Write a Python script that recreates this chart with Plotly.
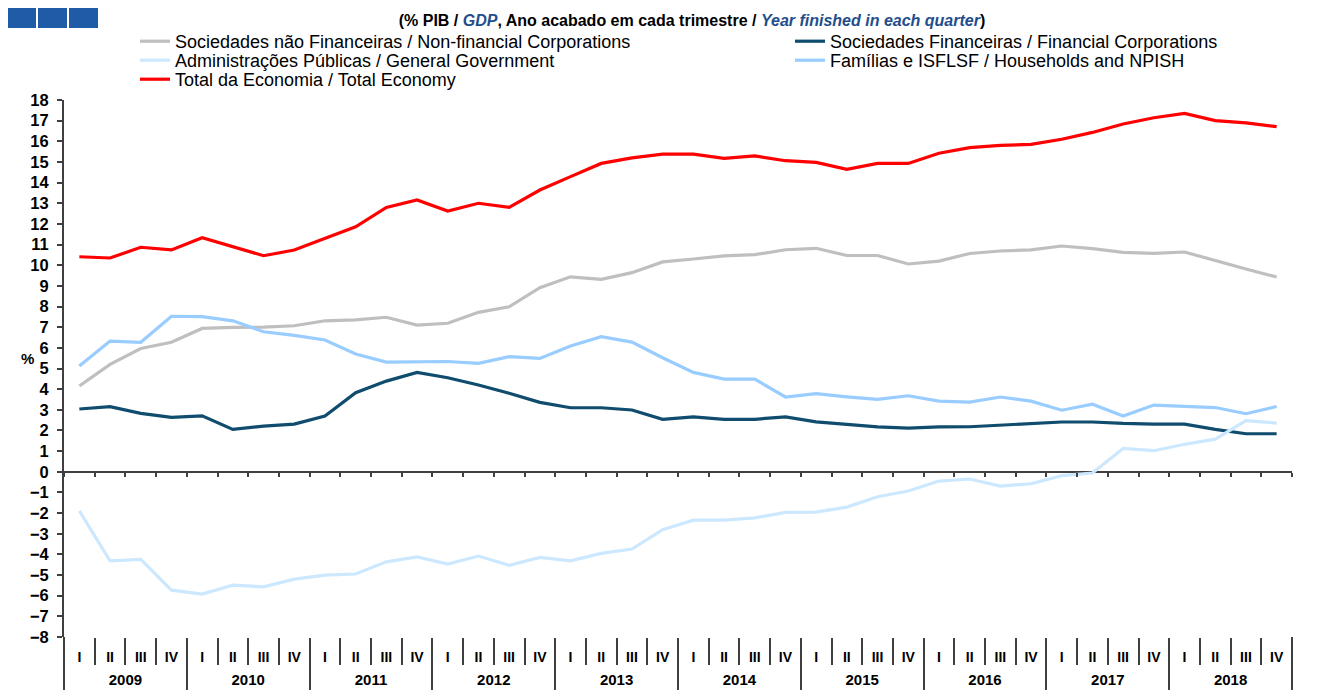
import plotly.graph_objects as go

YEARS = [str(y) for y in range(2009, 2019)]
QUARTERS = ["I", "II", "III", "IV"]

non_financial = [4.15, 5.20, 5.97, 6.27, 6.94, 6.99, 7.00, 7.07, 7.31, 7.35,
                 7.48, 7.10, 7.19, 7.72, 7.99, 8.91, 9.44, 9.32, 9.64, 10.16,
                 10.30, 10.45, 10.51, 10.75, 10.82, 10.47, 10.47, 10.06, 10.20, 10.57,
                 10.69, 10.74, 10.93, 10.80, 10.62, 10.57, 10.64, 10.22, 9.82, 9.43]
financial = [3.04, 3.15, 2.83, 2.63, 2.71, 2.05, 2.21, 2.31, 2.70, 3.83,
             4.39, 4.81, 4.55, 4.20, 3.80, 3.36, 3.10, 3.10, 2.99, 2.54,
             2.66, 2.54, 2.54, 2.66, 2.42, 2.29, 2.17, 2.11, 2.17, 2.18,
             2.26, 2.32, 2.41, 2.41, 2.34, 2.31, 2.31, 2.05, 1.84, 1.84]
government = [-1.89, -4.31, -4.24, -5.73, -5.92, -5.49, -5.57, -5.20, -5.00, -4.95,
              -4.36, -4.12, -4.47, -4.08, -4.53, -4.15, -4.31, -3.95, -3.74, -2.80,
              -2.34, -2.34, -2.23, -1.97, -1.95, -1.71, -1.21, -0.93, -0.45, -0.35,
              -0.69, -0.58, -0.19, -0.06, 1.13, 1.02, 1.33, 1.58, 2.47, 2.36]
households = [5.12, 6.33, 6.27, 7.53, 7.51, 7.31, 6.78, 6.60, 6.38, 5.70,
              5.31, 5.31, 5.34, 5.25, 5.57, 5.49, 6.09, 6.54, 6.28, 5.52,
              4.81, 4.49, 4.49, 3.62, 3.78, 3.63, 3.51, 3.68, 3.42, 3.37,
              3.62, 3.42, 2.98, 3.27, 2.70, 3.23, 3.18, 3.11, 2.81, 3.16]
total = [10.41, 10.35, 10.87, 10.74, 11.33, 10.90, 10.46, 10.74, 11.30, 11.86,
         12.80, 13.16, 12.62, 13.00, 12.80, 13.64, 14.29, 14.93, 15.20, 15.38,
         15.38, 15.17, 15.29, 15.06, 14.98, 14.64, 14.93, 14.93, 15.42, 15.69,
         15.80, 15.85, 16.10, 16.43, 16.84, 17.14, 17.35, 17.00, 16.89, 16.71]

x_cats = [f"{y} {q}" for y in YEARS for q in QUARTERS]
x_quarter = [q for _ in YEARS for q in QUARTERS]
n = len(x_cats)
nq = len(QUARTERS)
year_centres = [i * nq + (nq - 1) / 2 for i in range(len(YEARS))]

FONT = "Liberation Sans, Arial, sans-serif"
AXIS = "#404040"

# page has an 8px body margin, so work in screen pixels and convert
W, H = 1319, 682
PL, PR, PT, PB = 64, 1292, 100, 637


def px(sx):
    return (sx - PL) / (PR - PL)


def py(sy):
    return (PB - sy) / (PB - PT)


# (name, values, colour, legend id, legend text x, legend row centre y)
series = [
    ("Sociedades não Financeiras / Non-financial Corporations", non_financial, "#bfbfbf", "legend", 175, 43),
    ("Sociedades Financeiras / Financial Corporations", financial, "#0f4c6e", "legend2", 830, 43),
    ("Administrações Públicas / General Government", government, "#cce8ff", "legend3", 175, 62),
    ("Famílias e ISFLSF / Households and NPISH", households, "#99ccff", "legend4", 830, 62),
    ("Total da Economia / Total Economy", total, "#ff0000", "legend5", 175, 81),
]

fig = go.Figure()
legends = {}
for name, vals, color, leg, lx, ly in series:
    fig.add_trace(go.Scatter(
        x=x_cats, y=vals, mode="lines", name=name, legend=leg, showlegend=True,
        line=dict(color=color, width=3.2),
    ))
    legends[leg] = dict(x=px(lx - 40), y=py(ly - 20), xanchor="left", yanchor="top",
                        font=dict(size=18, family=FONT), bgcolor="rgba(0,0,0,0)")

# empty traces so the overlay x axes (zero-line ticks, years, dividers) get drawn
for ax in ("x2", "x3", "x4"):
    fig.add_trace(go.Scatter(x=[None], y=[None], xaxis=ax, yaxis="y", mode="lines",
                             showlegend=False, hoverinfo="skip"))

yrange = [-8, 18]
ytick = dict(tickmode="linear", tick0=-8, dtick=1, range=yrange, showgrid=False,
             tickcolor=AXIS, tickwidth=1.5, ticklen=5, automargin=False)
xlin = dict(overlaying="x", type="linear", range=[-0.5, n - 0.5], automargin=False,
            showline=False, showgrid=False, zeroline=False)

fig.update_layout(
    width=W, height=H, showlegend=True,
    margin=dict(l=PL - 8, r=W + 8 - PR, t=PT - 8, b=H + 8 - PB, autoexpand=False),
    plot_bgcolor="white", paper_bgcolor="white",
    font=dict(family=FONT, color="black"),
    title=dict(
        text="<b>(% PIB / <i><span style='color:#1f4e8c'>GDP</span></i>, Ano acabado em cada trimestre / "
             "<i><span style='color:#1f4e8c'>Year finished in each quarter</span></i>)</b>",
        x=(692 - 8) / W, xanchor="center", y=1 - (20 - 8) / H, yanchor="middle",
        font=dict(size=16, family=FONT, color="black"),
    ),
    **legends,
    # quarter labels with short separators
    xaxis=dict(type="category", showgrid=False, showline=False, zeroline=False, automargin=False,
               range=[-0.5, n - 0.5], tickmode="array", tickvals=x_cats, ticktext=x_quarter,
               ticks="outside", tickson="boundaries", ticklen=27, tickcolor=AXIS, tickwidth=1.5,
               ticklabelstandoff=10, tickfont=dict(size=14, family=FONT, weight="bold")),
    # small ticks on the zero line
    xaxis2=dict(**xlin, anchor="free", position=-yrange[0] / (yrange[1] - yrange[0]),
                showticklabels=False, ticks="outside", ticklen=4, tickcolor=AXIS, tickwidth=1.5,
                tickmode="linear", tick0=-0.5, dtick=1),
    # year labels
    xaxis3=dict(**xlin, anchor="y", side="bottom", ticks="", tickmode="array",
                tickvals=year_centres, ticktext=YEARS, ticklabelstandoff=32,
                tickfont=dict(size=15, family=FONT, weight="bold")),
    # long year dividers
    xaxis4=dict(**xlin, anchor="y", side="bottom", showticklabels=False, ticks="outside",
                ticklen=60, tickcolor=AXIS, tickwidth=1.5, tickmode="linear", tick0=-0.5, dtick=nq),
    yaxis=dict(**ytick, ticks="outside", showline=True, linecolor=AXIS, linewidth=2,
               zeroline=True, zerolinecolor=AXIS, zerolinewidth=2, ticklabelstandoff=5,
               tickfont=dict(size=16.5, family=FONT, weight="bold")),
    yaxis2=dict(**ytick, ticks="outside", overlaying="y", side="right", anchor="x",
                showline=True, linecolor=AXIS, linewidth=2, zeroline=False, ticklabelstandoff=6,
                tickfont=dict(size=16.5, family=FONT, weight="bold")),
    yaxis3=dict(**ytick, ticks="inside", overlaying="y", side="left", anchor="x",
                showline=False, zeroline=False, showticklabels=False),
    yaxis4=dict(**ytick, ticks="inside", overlaying="y", side="right", anchor="x",
                showline=False, zeroline=False, showticklabels=False),
)

# axis lines run on down through the quarter / year label band
for xp in (0, 1):
    fig.add_shape(type="line", xref="paper", yref="paper", x0=xp, x1=xp, y0=0, y1=py(700),
                  line=dict(color=AXIS, width=2))

# logo squares top-left
for x0 in (7, 38, 69):
    fig.add_shape(type="rect", xref="paper", yref="paper",
                  x0=px(x0), x1=px(x0 + 29), y0=py(28), y1=py(8),
                  fillcolor="#1f5ba6", line=dict(width=0))

fig.add_annotation(text="<b>%</b>", xref="paper", yref="y", x=px(27), xanchor="center", y=5.5,
                   showarrow=False, font=dict(size=15, family=FONT))

fig.write_html("out.html")
